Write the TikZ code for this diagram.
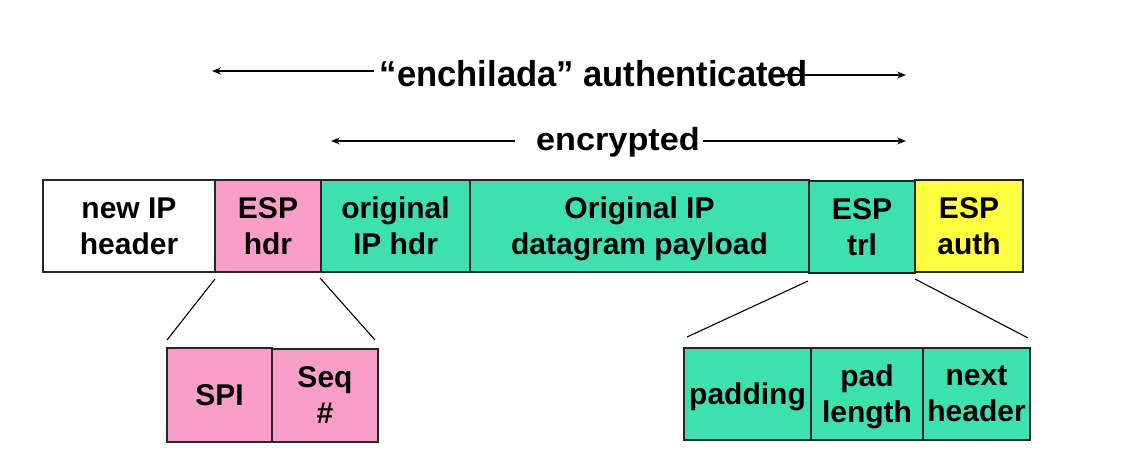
\documentclass[tikz,border=0pt]{standalone}
\usepackage{fontspec}
\setmainfont{Liberation Sans}
\newfontfamily\ttlA[FakeStretch=0.96]{Liberation Sans}
\newfontfamily\ttlB[FakeStretch=1.07]{Liberation Sans}
\usetikzlibrary{arrows.meta}
\definecolor{espink}{RGB}{249,157,201}
\definecolor{espteal}{RGB}{61,225,175}
\definecolor{espyellow}{RGB}{255,255,64}
\tikzset{
  fld/.style={draw=black!85, line width=1.2pt, inner sep=0pt, outer sep=0pt,
    align=center, text depth=0pt, font=\fontsize{30}{36}\selectfont\bfseries},
  ttl/.style={inner sep=0pt, anchor=base},
  arr/.style={line width=1.3pt, -{Stealth[length=9pt,width=7pt]}},
  lnk/.style={line width=1.1pt}
}
\begin{document}
\begin{tikzpicture}[x=1pt,y=-1pt]
\useasboundingbox (0,0) rectangle (1146,470);
% main row
\node[fld, minimum width=172pt, minimum height=92pt, fill=white] (nip) at (129,226) {new IP\\header};
\node[fld, minimum width=106pt, minimum height=92pt, fill=espink] (esph) at (268,226) {ESP\\hdr};
\node[fld, minimum width=149pt, minimum height=92pt, fill=espteal] (oip) at (395.5,226) {original\\IP hdr};
\node[fld, minimum width=339pt, minimum height=92pt, fill=espteal] (pay) at (639.5,226) {Original IP\\datagram payload};
\node[fld, minimum width=106pt, minimum height=92pt, fill=espteal] (trl) at (862,227) {ESP\\trl};
\node[fld, minimum width=108pt, minimum height=92pt, fill=espyellow] (auth) at (969,226) {ESP\\auth};
% lower left
\node[fld, minimum width=105pt, minimum height=94pt, fill=espink] (spi) at (219.5,395) {SPI};
\node[fld, minimum width=106pt, minimum height=93pt, fill=espink] (seq) at (325,395.5) {Seq\\\#};
% lower right
\node[fld, minimum width=127pt, minimum height=92pt, fill=espteal] (pad) at (747.5,394) {padding};
\node[fld, minimum width=112pt, minimum height=92pt, fill=espteal] (plen) at (867,394) {pad\\length};
\node[fld, minimum width=107pt, minimum height=92pt, fill=espteal] (nh) at (976.5,394) {next\\header};
% zoom lines
\coordinate (a1) at (215,279); \coordinate (a2) at (167,340);
\coordinate (b1) at (320,278); \coordinate (b2) at (375,340);
\coordinate (c1) at (808,281); \coordinate (c2) at (687,337);
\coordinate (d1) at (915,279); \coordinate (d2) at (1028,338);
\draw[lnk] (a1) -- (a2);
\draw[lnk] (b1) -- (b2);
\draw[lnk] (c1) -- (c2);
\draw[lnk] (d1) -- (d2);
% titles
\node[ttl, font=\ttlA\fontsize{36}{40}\selectfont\bfseries] (auttl) at (594,87) {“enchilada” authenticated};
\node[ttl, font=\ttlB\fontsize{32}{38}\selectfont\bfseries] (encttl) at (618,151) {encrypted};
\coordinate (al) at (212,71); \coordinate (ar) at (906,75);
\coordinate (als) at (374,71); \coordinate (ars) at (785,75);
\draw[arr] (als) -- (al);
\draw[arr] (ars) -- (ar);
\coordinate (el) at (331,141); \coordinate (er) at (906,141);
\coordinate (els) at (515,141); \coordinate (ers) at (703,141);
\draw[arr] (els) -- (el);
\draw[arr] (ers) -- (er);
\end{tikzpicture}
\end{document}
